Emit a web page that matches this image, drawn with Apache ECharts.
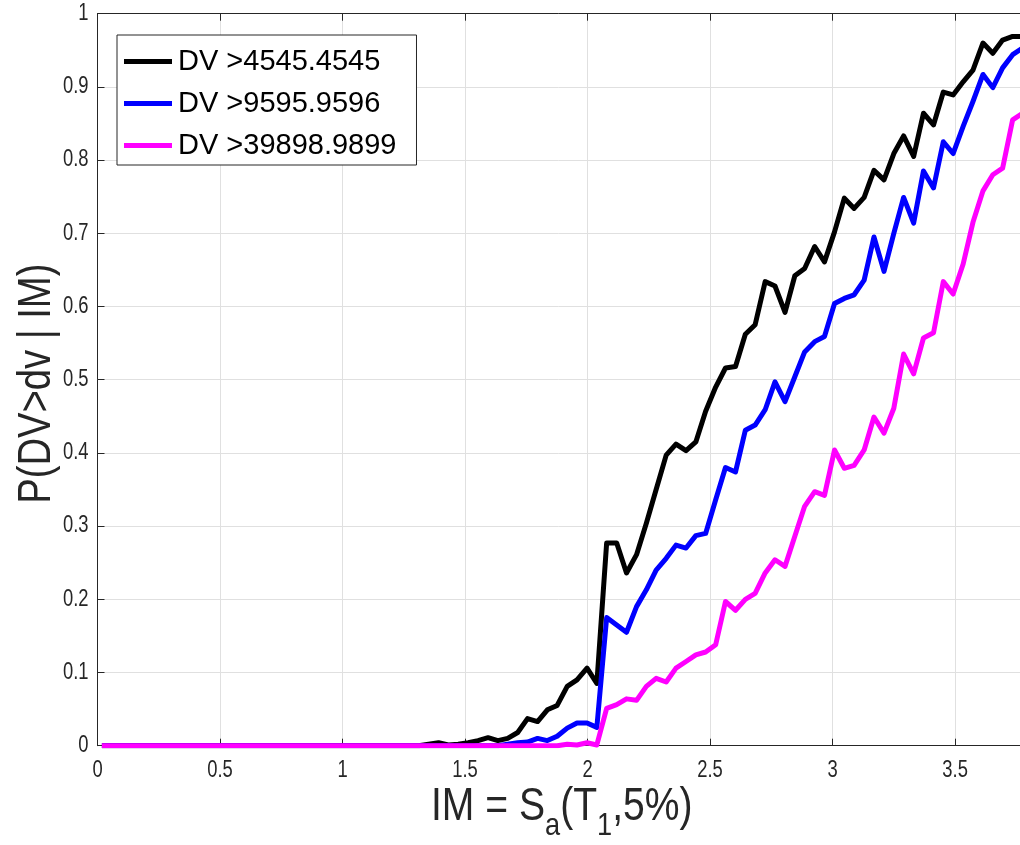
<!DOCTYPE html>
<html>
<head>
<meta charset="utf-8">
<script src="https://cdn.jsdelivr.net/npm/echarts@6/dist/echarts.min.js"></script>
<style>
html,body{margin:0;padding:0;background:#fff;}
#c{width:1020px;height:845px;}
</style>
</head>
<body>
<div id="c"></div>
<script>
// IM values (x)
const imValues = [
0.018,0.058,0.099,0.139,0.180,0.220,0.260,0.301,0.341,0.382,
0.422,0.462,0.503,0.543,0.584,0.624,0.664,0.705,0.745,0.786,
0.826,0.866,0.907,0.947,0.988,1.028,1.068,1.109,1.149,1.190,
1.230,1.270,1.311,1.351,1.392,1.432,1.472,1.513,1.553,1.594,
1.634,1.674,1.715,1.755,1.796,1.836,1.876,1.917,1.957,1.998,
2.038,2.078,2.119,2.159,2.200,2.240,2.280,2.321,2.361,2.402,
2.442,2.482,2.523,2.563,2.604,2.644,2.684,2.725,2.765,2.806,
2.846,2.886,2.927,2.967,3.008,3.048,3.088,3.129,3.169,3.210,
3.250,3.290,3.331,3.371,3.412,3.452,3.492,3.533,3.573,3.614,
3.654,3.694,3.735,3.775];

const seriesNames = ['DV >4545.4545', 'DV >9595.9596', 'DV >39898.9899'];

const pBlack = [
0,0,0,0,0,0,0,0,0,0,
0,0,0,0,0,0,0,0,0,0,
0,0,0,0,0,0,0,0,0,0,
0,0,0,0.002,0.004,0.001,0.002,0.004,0.007,0.011,
0.007,0.010,0.018,0.037,0.033,0.049,0.055,0.081,0.090,0.106,
0.085,0.277,0.277,0.236,0.261,0.304,0.350,0.397,0.412,0.403,
0.415,0.457,0.490,0.516,0.518,0.562,0.575,0.634,0.628,0.592,
0.642,0.652,0.682,0.661,0.702,0.748,0.734,0.749,0.786,0.773,
0.809,0.833,0.805,0.864,0.848,0.893,0.889,0.907,0.923,0.960,
0.946,0.964,0.969,0.969];

const pBlue = [
0,0,0,0,0,0,0,0,0,0,
0,0,0,0,0,0,0,0,0,0,
0,0,0,0,0,0,0,0,0,0,
0,0,0,0,0,0,0,0,0,0,
0,0.002,0.004,0.005,0.010,0.007,0.013,0.024,0.031,0.031,
0.025,0.175,0.165,0.155,0.190,0.213,0.240,0.256,0.274,0.270,
0.287,0.290,0.336,0.380,0.374,0.431,0.438,0.459,0.497,0.470,
0.504,0.538,0.552,0.559,0.604,0.611,0.616,0.636,0.695,0.648,
0.700,0.749,0.714,0.785,0.762,0.825,0.809,0.846,0.880,0.917,
0.899,0.926,0.944,0.953];

const pMagenta = [
0,0,0,0,0,0,0,0,0,0,
0,0,0,0,0,0,0,0,0,0,
0,0,0,0,0,0,0,0,0,0,
0,0,0,0,0,0,0,0,0,0,
0,0,0,0,0,0,0,0.002,0.001,0.004,
0.001,0.051,0.056,0.064,0.062,0.081,0.092,0.087,0.106,0.115,
0.124,0.128,0.138,0.197,0.185,0.200,0.208,0.236,0.254,0.245,
0.286,0.327,0.347,0.342,0.404,0.379,0.383,0.404,0.449,0.427,
0.461,0.535,0.508,0.557,0.564,0.634,0.617,0.658,0.715,0.758,
0.780,0.789,0.855,0.864];

// tick values and labels
const xTickValues = [0, 0.5, 1, 1.5, 2, 2.5, 3, 3.5];
const xTickLabels = ['0', '0.5', '1', '1.5', '2', '2.5', '3', '3.5'];
const yTickValues = [0, 0.1, 0.2, 0.3, 0.4, 0.5, 0.6, 0.7, 0.8, 0.9, 1];
const yTickLabels = ['0', '0.1', '0.2', '0.3', '0.4', '0.5', '0.6', '0.7', '0.8', '0.9', '1'];

const xTitleRich = '{m|IM = S}{s|a}{m|(T}{s|1}{m|,5%)}';
const yTitle = 'P(DV>dv | IM)';

const colors = ['#000000', '#0000ff', '#ff00ff'];
const allSeries = [pBlack, pBlue, pMagenta];

const axisColor = '#262626';
const gridColor = '#e0e0e0';
const font = 'Liberation Sans, Arial, Helvetica, sans-serif';
const condense = 0.8;

const chart = echarts.init(document.getElementById('c'), null, {renderer: 'canvas'});

const series = allSeries.map((vals, i) => ({
  name: seriesNames[i],
  type: 'line',
  data: imValues.map((x, j) => [x, vals[j]]),
  showSymbol: false,
  symbol: 'none',
  clip: true,
  lineStyle: {color: colors[i], width: 5, join: 'round', cap: 'butt'},
  itemStyle: {color: colors[i]},
  z: 2 + i
}));

const option = {
  animation: false,
  backgroundColor: '#ffffff',
  textStyle: {fontFamily: font},
  grid: {left: 97.5, right: 0, top: 13.7, bottom: 99.3, containLabel: false, outerBoundsMode: 'none'},
  legend: {
    orient: 'vertical',
    left: 117,
    top: 35,
    padding: [12, 20, 5, 7],
    itemGap: 13,
    itemWidth: 48,
    itemHeight: 5,
    icon: 'rect',
    backgroundColor: '#ffffff',
    borderColor: '#262626',
    borderWidth: 1,
    borderRadius: 0,
    textStyle: {fontSize: 29, color: '#000', fontFamily: font, padding: [0, 0, 0, 1]},
    data: seriesNames
  },
  xAxis: [{
    type: 'value',
    position: 'bottom',
    min: 0,
    max: 3.765,
    interval: 0.5,
    axisLine: {show: true, onZero: false, lineStyle: {color: axisColor, width: 1}},
    axisTick: {show: true, inside: true, length: 7, lineStyle: {color: axisColor}},
    axisLabel: {show: false},
    splitLine: {show: true, lineStyle: {color: gridColor, width: 1}}
  }, {
    type: 'value',
    position: 'top',
    min: 0,
    max: 3.765,
    interval: 0.5,
    axisLine: {show: true, onZero: false, lineStyle: {color: axisColor, width: 1}},
    axisTick: {show: true, inside: true, length: 7, lineStyle: {color: axisColor}},
    axisLabel: {show: false},
    splitLine: {show: false}
  }],
  yAxis: [{
    type: 'value',
    min: 0,
    max: 1,
    interval: 0.1,
    axisLine: {show: true, onZero: false, lineStyle: {color: axisColor, width: 1}},
    axisTick: {show: true, inside: true, length: 7, lineStyle: {color: axisColor}},
    axisLabel: {show: false},
    splitLine: {show: true, lineStyle: {color: gridColor, width: 1}}
  }],
  series: series
};

chart.setOption(option);

// Tick labels and axis titles placed through the axes' own scales (condensed text)
const y0px = chart.convertToPixel({yAxisIndex: 0}, 0);
const x0px = chart.convertToPixel({xAxisIndex: 0}, 0);
const y1px = chart.convertToPixel({yAxisIndex: 0}, 1);
const xEndPx = chart.getWidth();
const graphics = [];
xTickValues.forEach((v, i) => {
  graphics.push({
    type: 'text',
    x: chart.convertToPixel({xAxisIndex: 0}, v),
    y: y0px + 13,
    scaleX: condense,
    silent: true,
    style: {text: xTickLabels[i], font: '23px ' + font, fill: axisColor, align: 'center', verticalAlign: 'top'}
  });
});
yTickValues.forEach((v, i) => {
  graphics.push({
    type: 'text',
    x: x0px - 9,
    y: chart.convertToPixel({yAxisIndex: 0}, v),
    scaleX: condense,
    silent: true,
    style: {text: yTickLabels[i], font: '23px ' + font, fill: axisColor, align: 'right', verticalAlign: 'middle'}
  });
});
// x-axis title (centred under the visible axis)
graphics.push({
  type: 'text',
  x: (x0px + xEndPx) / 2 + 3,
  y: y0px + 39,
  scaleX: 0.85,
  silent: true,
  style: {
    text: xTitleRich,
    fill: axisColor,
    align: 'center',
    verticalAlign: 'top',
    font: '46px ' + font,
    rich: {
      m: {fontSize: 46, fontFamily: font, fill: axisColor, lineHeight: 50, verticalAlign: 'top'},
      s: {fontSize: 32, fontFamily: font, fill: axisColor, lineHeight: 32, padding: [25, 0, 0, 0], verticalAlign: 'top'}
    }
  }
});
// y-axis title
graphics.push({
  type: 'text',
  x: 37,
  y: (y0px + y1px) / 2 + 4,
  rotation: Math.PI / 2,
  scaleX: 0.83,
  silent: true,
  style: {text: yTitle, font: '46px ' + font, fill: axisColor, align: 'center', verticalAlign: 'middle'}
});
chart.setOption({graphic: graphics});
</script>
</body>
</html>
